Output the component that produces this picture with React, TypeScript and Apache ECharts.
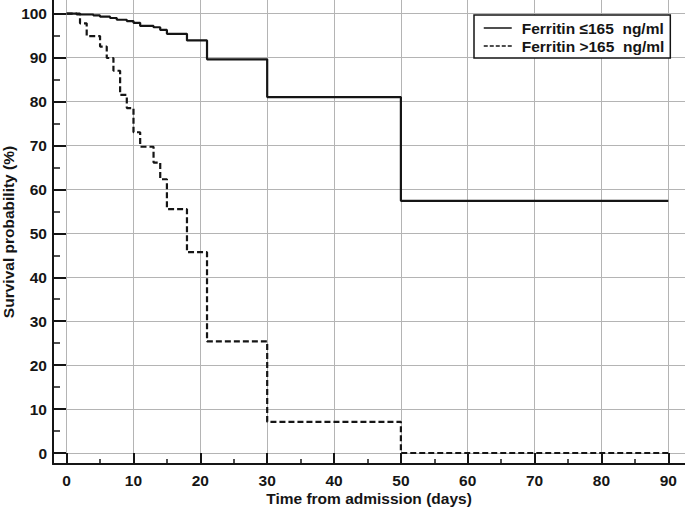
import React, { useEffect, useRef } from "react";
import * as echarts from "echarts";

const lowDays = [0, 1.5, 4, 5, 6.5, 7.5, 9, 10, 11, 13, 14, 15, 18, 21, 30, 50, 90];
const lowSurvival = [100, 99.8, 99.6, 99.3, 99.0, 98.6, 98.3, 97.9, 97.2, 96.9, 96.3, 95.4, 93.9, 89.6, 81.0, 57.4, 57.4];
const highDays = [0, 2, 3, 5, 6, 7, 8, 9, 10, 11, 13, 14, 15, 18, 21, 30, 50, 90];
const highSurvival = [100, 97.8, 94.9, 92.5, 89.9, 87.0, 81.5, 78.5, 73.0, 69.7, 66.1, 62.3, 55.5, 45.7, 25.4, 7.1, 0, 0];

const xMajor = [0, 10, 20, 30, 40, 50, 60, 70, 80, 90];
const xMinor = [5, 15, 25, 35, 45, 55, 65, 75, 85];
const yMajor = [0, 10, 20, 30, 40, 50, 60, 70, 80, 90, 100];
const yMinor = [5, 15, 25, 35, 45, 55, 65, 75, 85, 95];

const seriesNames = ["Ferritin \u2264165\u00a0\u00a0ng/ml", "Ferritin >165\u00a0\u00a0ng/ml"];

const FONT = "'Liberation Sans', Arial, Helvetica, sans-serif";
const INK = "#151515";

export default function App() {
  const ref = useRef<HTMLDivElement>(null);
  useEffect(() => {
    document.body.style.margin = "0";
    if (!ref.current) return;
    const chart = echarts.init(ref.current, undefined, { renderer: "svg" });
    const labelStyle = { fontFamily: FONT, fontSize: 15.5, fontWeight: "bold" as const, color: INK };
    const xMin = -2.04, xMax = 92.5, yMin = -2.5, yMax = 103.1;
    chart.setOption({
      animation: false,
      backgroundColor: "#ffffff",
      grid: { left: 53, right: 0, top: 0, bottom: 49, containLabel: false, outerBoundsMode: "none" },
      legend: {
        orient: "vertical",
        left: 474,
        top: 15,
        padding: [5, 6, 4, 9],
        itemGap: 2,
        itemWidth: 28,
        itemHeight: 16,
        backgroundColor: "#ffffff",
        borderColor: INK,
        borderWidth: 1.5,
        borderRadius: 0,
        textStyle: { ...labelStyle, padding: [0, 0, 0, 5] },
        data: [
          { name: seriesNames[0], itemStyle: { opacity: 0 }, lineStyle: { width: 1.5, type: "solid" } },
          { name: seriesNames[1], itemStyle: { opacity: 0 }, lineStyle: { width: 1.5, type: [4, 2] } },
        ],
      },
      xAxis: [
        {
          type: "value",
          min: xMin,
          max: xMax,
          position: "bottom",
          name: "Time from admission (days)",
          nameLocation: "middle",
          nameGap: 26,
          nameMoveOverlap: false,
          nameTextStyle: labelStyle,
          axisLine: { show: true, onZero: false, lineStyle: { color: INK, width: 2 } },
          axisTick: { show: true, inside: true, length: 11, customValues: xMajor, lineStyle: { color: INK, width: 2 } },
          axisLabel: { customValues: xMajor, margin: 8, ...labelStyle },
          splitLine: { show: true, lineStyle: { color: "#b4b4b4", width: 1 } },
        },
        {
          type: "value",
          min: xMin,
          max: xMax,
          position: "bottom",
          axisLine: { show: false, onZero: false },
          axisTick: { show: true, inside: true, length: 5, customValues: xMinor, lineStyle: { color: INK, width: 1.5 } },
          axisLabel: { show: false },
          splitLine: { show: false },
        },
      ],
      yAxis: [
        {
          type: "value",
          min: yMin,
          max: yMax,
          position: "left",
          name: "Survival probability (%)",
          nameLocation: "middle",
          nameGap: 37,
          nameMoveOverlap: false,
          nameTextStyle: labelStyle,
          axisLine: { show: true, onZero: false, lineStyle: { color: INK, width: 2 } },
          axisTick: { show: true, inside: true, length: 13, customValues: yMajor, lineStyle: { color: INK, width: 2 } },
          axisLabel: { customValues: yMajor, margin: 6, ...labelStyle },
          splitLine: { show: true, lineStyle: { color: "#b4b4b4", width: 1 } },
        },
        {
          type: "value",
          min: yMin,
          max: yMax,
          position: "left",
          axisLine: { show: false, onZero: false },
          axisTick: { show: true, inside: true, length: 7, customValues: yMinor, lineStyle: { color: INK, width: 1.5 } },
          axisLabel: { show: false },
          splitLine: { show: false },
        },
      ],
      series: [
        {
          name: seriesNames[0],
          type: "line",
          step: "end",
          symbol: "none",
          xAxisIndex: 0,
          yAxisIndex: 0,
          data: lowDays.map((d, i) => [d, lowSurvival[i]]),
          lineStyle: { color: INK, width: 2.2, type: "solid" },
          itemStyle: { color: INK },
        },
        {
          name: seriesNames[1],
          type: "line",
          step: "end",
          symbol: "none",
          xAxisIndex: 0,
          yAxisIndex: 0,
          data: highDays.map((d, i) => [d, highSurvival[i]]),
          lineStyle: { color: INK, width: 2.2, type: [6, 3] },
          itemStyle: { color: INK },
        },
      ],
    });
    return () => chart.dispose();
  }, []);
  return <div ref={ref} style={{ width: 685, height: 513 }} />;
}
